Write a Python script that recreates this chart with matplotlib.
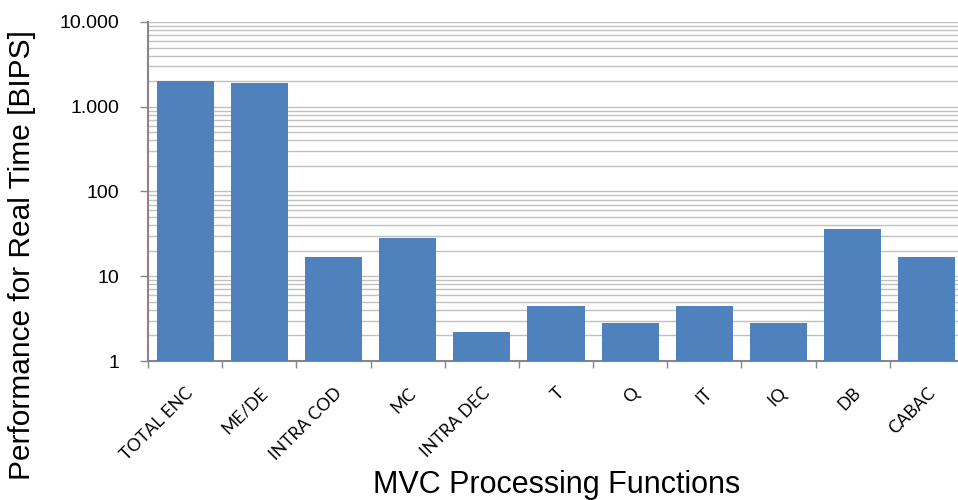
import matplotlib
matplotlib.use("Agg")
import matplotlib.pyplot as plt
from matplotlib.ticker import FixedLocator, LogLocator, NullFormatter

categories = ["TOTAL ENC", "ME/DE", "INTRA COD", "MC", "INTRA DEC",
              "T", "Q", "IT", "IQ", "DB", "CABAC"]
bips = [2000, 1900, 17, 28, 2.2, 4.5, 2.8, 4.5, 2.8, 36, 17]
ytick_values = [1, 10, 100, 1000, 10000]
ytick_labels = ["1", "10", "100", "1.000", "10.000"]

bar_color = "#4F81BD"
axis_color = "#868686"
grid_color = "#C0C0C0"

fig = plt.figure(figsize=(9.58, 5.0), dpi=100)
ax = fig.add_axes([148 / 958, 1 - 361 / 500, (964 - 148) / 958, (361 - 22) / 500])

x = list(range(len(categories)))
ax.bar(x, bips, width=0.77, color=bar_color, zorder=3)

ax.set_yscale("log")
ax.set_ylim(1, 10000)
ax.set_xlim(-0.5, len(categories) - 0.5)

ax.yaxis.set_major_locator(FixedLocator(ytick_values))
ax.set_yticklabels(ytick_labels, fontsize=14, family="Liberation Sans")
ax.yaxis.set_minor_locator(LogLocator(base=10, subs=range(2, 10)))
ax.yaxis.set_minor_formatter(NullFormatter())
ax.tick_params(axis="y", which="minor", length=0)
ax.tick_params(axis="y", which="major", length=6, color=axis_color, width=1, pad=14.5)
ax.grid(True, axis="y", which="both", color=grid_color, linewidth=1, zorder=0)

# category boundary ticks on the x axis, labels centred under each bar
ax.set_xticks([i - 0.5 for i in range(len(categories) + 1)])
ax.set_xticklabels([])
ax.tick_params(axis="x", which="major", length=5, color=axis_color, width=1)
for i, name in enumerate(categories):
    ax.text(i + 0.0, -0.07, name, rotation=45, ha="right", va="top",
            rotation_mode="anchor", fontsize=12.5, family="Lato",
            transform=ax.get_xaxis_transform())

for side in ["top", "right"]:
    ax.spines[side].set_visible(False)
for side in ["left", "bottom"]:
    ax.spines[side].set_color(axis_color)
    ax.spines[side].set_linewidth(1.5)

fig.text(0.023, 0.49, "Performance for Real Time [BIPS]", rotation=90,
         ha="center", va="center", fontsize=21.5, family="Liberation Sans")
fig.text(0.581, 0.03, "MVC Processing Functions", ha="center", va="center",
         fontsize=22, family="Liberation Sans")

fig.savefig("out.png", dpi=100)
